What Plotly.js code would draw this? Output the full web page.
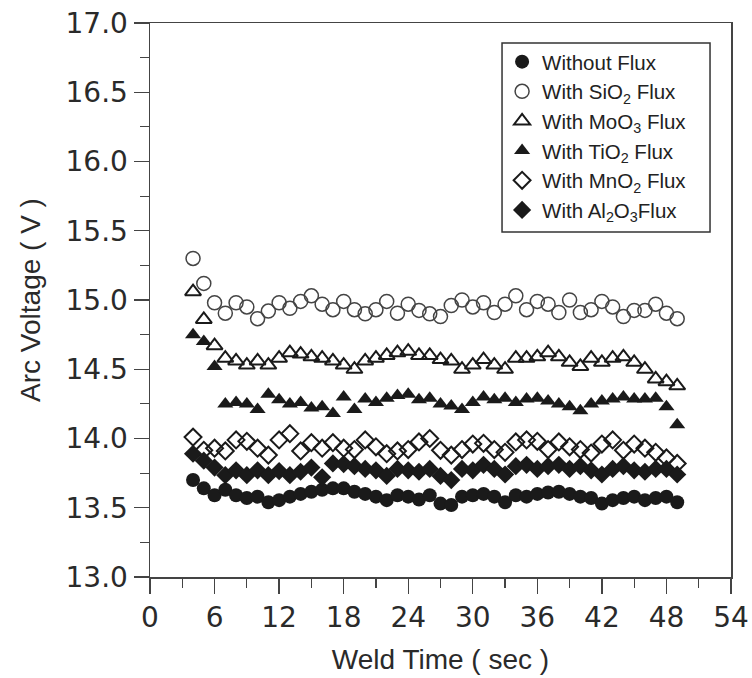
<!DOCTYPE html>
<html>
<head>
<meta charset="utf-8">
<script src="https://cdn.plot.ly/plotly-3.0.1.min.js"></script>
<style>html,body{margin:0;padding:0;background:#fff;}#chart{width:752px;height:678px;}</style>
</head>
<body>
<div id="chart"></div>
<script>
// Weld time (s)
const weldTime = [4,5,6,7,8,9,10,11,12,13,14,15,16,17,18,19,20,21,22,23,24,25,26,27,28,29,30,31,32,33,34,35,36,37,38,39,40,41,42,43,44,45,46,47,48,49];

const withoutFlux = [13.70,13.64,13.59,13.63,13.59,13.57,13.58,13.54,13.555,13.58,13.60,13.615,13.63,13.64,13.64,13.615,13.60,13.58,13.555,13.59,13.58,13.56,13.59,13.53,13.52,13.58,13.59,13.60,13.58,13.54,13.59,13.58,13.60,13.61,13.615,13.60,13.58,13.57,13.53,13.555,13.57,13.58,13.555,13.57,13.58,13.54];

const withSiO2 = [15.30,15.12,14.98,14.905,14.98,14.95,14.865,14.92,14.98,14.94,14.99,15.03,14.97,14.93,14.99,14.93,14.90,14.93,14.99,14.905,14.97,14.925,14.90,14.88,14.96,15.00,14.95,14.98,14.91,14.97,15.03,14.93,14.99,14.97,14.91,15.00,14.91,14.93,14.99,14.95,14.88,14.925,14.925,14.97,14.905,14.865];

const withMoO3 = [15.06,14.86,14.67,14.58,14.56,14.53,14.56,14.53,14.58,14.62,14.61,14.59,14.58,14.56,14.53,14.50,14.56,14.58,14.60,14.62,14.63,14.60,14.60,14.57,14.56,14.50,14.53,14.57,14.53,14.50,14.58,14.58,14.59,14.62,14.59,14.55,14.52,14.58,14.55,14.58,14.59,14.55,14.50,14.43,14.41,14.38];

const withTiO2 = [14.75,14.70,14.52,14.25,14.26,14.25,14.21,14.32,14.28,14.25,14.26,14.22,14.23,14.18,14.30,14.21,14.285,14.26,14.29,14.31,14.32,14.28,14.29,14.25,14.235,14.21,14.26,14.30,14.28,14.29,14.26,14.285,14.29,14.27,14.25,14.23,14.20,14.25,14.27,14.285,14.30,14.285,14.285,14.29,14.23,14.10];

const withMnO2 = [14.01,13.915,13.93,13.91,13.99,13.98,13.93,13.88,13.99,14.035,13.91,13.97,13.93,13.97,13.93,13.92,13.99,13.94,13.89,13.91,13.92,13.975,14.00,13.915,13.88,13.92,13.96,13.965,13.92,13.90,13.975,13.99,13.98,13.92,13.975,13.94,13.92,13.895,13.96,13.99,13.915,13.96,13.93,13.90,13.86,13.82];

const withAl2O3 = [13.89,13.84,13.79,13.735,13.77,13.735,13.77,13.735,13.765,13.735,13.76,13.79,13.72,13.82,13.815,13.80,13.78,13.77,13.73,13.78,13.77,13.76,13.78,13.73,13.70,13.78,13.77,13.81,13.78,13.74,13.80,13.81,13.78,13.80,13.81,13.78,13.80,13.77,13.74,13.78,13.80,13.77,13.76,13.78,13.78,13.74];

const seriesNames = [
  'Without Flux',
  'With SiO<sub>2</sub> Flux',
  'With MoO<sub>3</sub> Flux',
  'With TiO<sub>2</sub> Flux',
  'With MnO<sub>2</sub> Flux',
  'With Al<sub>2</sub>O<sub>3</sub>Flux'
];

const xTickVals = [0,6,12,18,24,30,36,42,48,54];

const dark = '#1a1a1a';
function tr(y, name, symbol, size, color, lw) {
  return {
    x: weldTime, y: y, name: name, type: 'scatter', mode: 'markers',
    marker: {symbol: symbol, size: size, color: color, line: {width: lw, color: color}}
  };
}

const data = [
  tr(withoutFlux, seriesNames[0], 'circle', 14, dark, 0),
  tr(withSiO2, seriesNames[1], 'circle-open', 14, '#444', 1.5),
  tr(withMoO3, seriesNames[2], 'triangle-up-open', 14, dark, 2),
  tr(withTiO2, seriesNames[3], 'triangle-up', 14, dark, 0),
  tr(withMnO2, seriesNames[4], 'diamond-open', 13, dark, 2),
  tr(withAl2O3, seriesNames[5], 'diamond', 14, dark, 0)
];

const axisCommon = {
  showgrid: false, zeroline: false,
  showline: true, linecolor: '#444', linewidth: 1.5, mirror: true,
  ticks: 'outside', ticklen: 15, tickwidth: 1.3, tickcolor: '#444',
  tickfont: {family: 'DejaVu Sans', size: 28, color: '#2a2a2a'}
};

const layout = {
  width: 752, height: 678,
  paper_bgcolor: '#fff', plot_bgcolor: '#fff',
  margin: {l: 150, r: 21, t: 23, b: 101},
  showlegend: true,
  xaxis: Object.assign({}, axisCommon, {
    range: [0, 54], tickvals: xTickVals,
    minor: {dtick: 3, ticklen: 9, ticks: 'outside', tickcolor: '#444', tickwidth: 1.2},
    title: {text: 'Weld Time ( sec )', font: {family: 'Liberation Sans, Arial', size: 28, color: '#2a2a2a'}, standoff: 16}
  }),
  yaxis: Object.assign({}, axisCommon, {
    range: [13, 17], dtick: 0.5, tick0: 13, tickformat: '.1f',
    minor: {dtick: 0.25, ticklen: 9, ticks: 'outside', tickcolor: '#444', tickwidth: 1.2},
    title: {text: 'Arc Voltage ( V )', font: {family: 'Liberation Sans, Arial', size: 28, color: '#2a2a2a'}, standoff: 17}
  }),
  legend: {
    x: 0.606, y: 0.966, xanchor: 'left', yanchor: 'top',
    bgcolor: 'rgba(0,0,0,0)', borderwidth: 0,
    font: {family: 'Liberation Sans, Arial', size: 20.5, color: '#222'},
    tracegroupgap: 0
  },
  shapes: [{
    type: 'rect', xref: 'paper', yref: 'paper',
    x0: 0.6059, x1: 0.9639, y0: 0.6227, y1: 0.9639,
    line: {color: '#333', width: 1.5}, fillcolor: 'rgba(0,0,0,0)', layer: 'above'
  }]
};

Plotly.newPlot('chart', data, layout, {displayModeBar: false, staticPlot: true});
</script>
</body>
</html>
